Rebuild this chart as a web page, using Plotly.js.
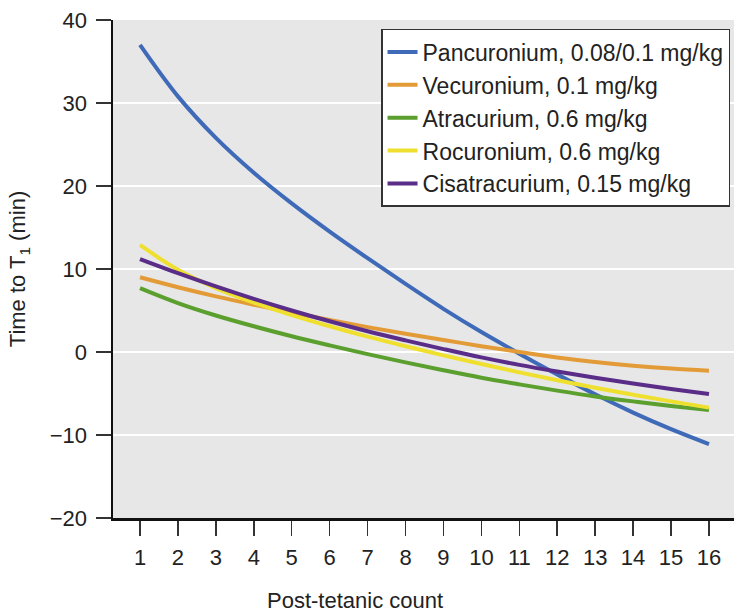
<!DOCTYPE html>
<html>
<head>
<meta charset="utf-8">
<script src="https://cdn.plot.ly/plotly-3.0.1.min.js"></script>
<style>html,body{margin:0;padding:0;background:#fff;}#chart{width:734px;height:613px;}</style>
</head>
<body>
<div id="chart"></div>
<script>
const postTetanicCount = [1, 2, 3, 4, 5, 6, 7, 8, 9, 10, 11, 12, 13, 14, 15, 16];
const seriesNames = [
  "Pancuronium, 0.08/0.1 mg/kg",
  "Vecuronium, 0.1 mg/kg",
  "Atracurium, 0.6 mg/kg",
  "Rocuronium, 0.6 mg/kg",
  "Cisatracurium, 0.15 mg/kg"
];
const pancuronium   = [37.0, 30.8, 25.8, 21.6, 17.9, 14.5, 11.3, 8.2, 5.2, 2.4, -0.2, -2.7, -5.1, -7.3, -9.3, -11.1];
const vecuronium    = [9.0, 7.8, 6.7, 5.7, 4.75, 3.85, 3.0, 2.2, 1.45, 0.7, 0.0, -0.65, -1.2, -1.65, -2.0, -2.25];
const atracurium    = [7.7, 5.9, 4.4, 3.1, 1.9, 0.8, -0.25, -1.25, -2.2, -3.1, -3.9, -4.65, -5.35, -5.95, -6.5, -7.0];
const rocuronium    = [12.9, 9.9, 7.7, 5.95, 4.45, 3.1, 1.85, 0.7, -0.4, -1.45, -2.45, -3.4, -4.3, -5.15, -5.95, -6.7];
const cisatracurium = [11.2, 9.5, 7.9, 6.4, 5.0, 3.7, 2.5, 1.4, 0.35, -0.65, -1.55, -2.35, -3.1, -3.8, -4.45, -5.05];
const yTickVals = [-20, -10, 0, 10, 20, 30, 40];

const allSeries = [pancuronium, vecuronium, atracurium, rocuronium, cisatracurium];
const colors = ["#3e6ab8", "#e39b38", "#5b9f2f", "#efe030", "#5a2d88"];

const traces = allSeries.map((vals, i) => ({
  type: "scatter",
  mode: "lines",
  x: postTetanicCount,
  y: vals,
  name: seriesNames[i],
  line: {color: colors[i], width: 4, shape: "spline", smoothing: 1}
}));

const FONT = "Liberation Sans, Arial, Helvetica, sans-serif";

const layout = {
  width: 734,
  height: 613,
  margin: {l: 113, r: 0, t: 20, b: 95},
  paper_bgcolor: "#ffffff",
  plot_bgcolor: "#e7e7e7",
  font: {family: FONT, color: "#222222", size: 22},
  showlegend: true,
  legend: {
    x: 0.4316, xanchor: "left",
    y: 0.982, yanchor: "top",
    bgcolor: "#ffffff",
    bordercolor: "#333333",
    borderwidth: 1.5,
    font: {family: FONT, size: 23, color: "#222222"}
  },
  xaxis: {
    range: [0.288, 16.66],
    tickvals: postTetanicCount,
    ticktext: postTetanicCount.map(String),
    ticks: "outside",
    ticklen: 15,
    tickwidth: 1.5,
    tickcolor: "#333333",
    ticklabelstandoff: 3,
    showline: true,
    linecolor: "#111111",
    linewidth: 2.5,
    showgrid: false,
    zeroline: false,
    tickfont: {family: FONT, size: 22, color: "#222222"},
    fixedrange: true
  },
  yaxis: {
    range: [-20, 40],
    tickvals: yTickVals,
    ticks: "outside",
    ticklen: 15,
    tickwidth: 1.5,
    tickcolor: "#333333",
    ticklabelstandoff: 4,
    showline: true,
    linecolor: "#111111",
    linewidth: 2.5,
    showgrid: true,
    gridcolor: "#ffffff",
    gridwidth: 2,
    zeroline: false,
    tickfont: {family: FONT, size: 22, color: "#222222"},
    title: {text: "Time to T<sub>1</sub> (min)", font: {family: FONT, size: 22, color: "#222222"}, standoff: 18},
    fixedrange: true
  },
  annotations: [{
    text: "Post-tetanic count",
    xref: "paper", yref: "paper",
    x: (355 - 113) / 621, y: -0.165,
    xanchor: "center", yanchor: "middle",
    showarrow: false,
    font: {family: FONT, size: 22, color: "#222222"}
  }]
};

Plotly.newPlot("chart", traces, layout, {displayModeBar: false, staticPlot: true});
</script>
</body>
</html>
